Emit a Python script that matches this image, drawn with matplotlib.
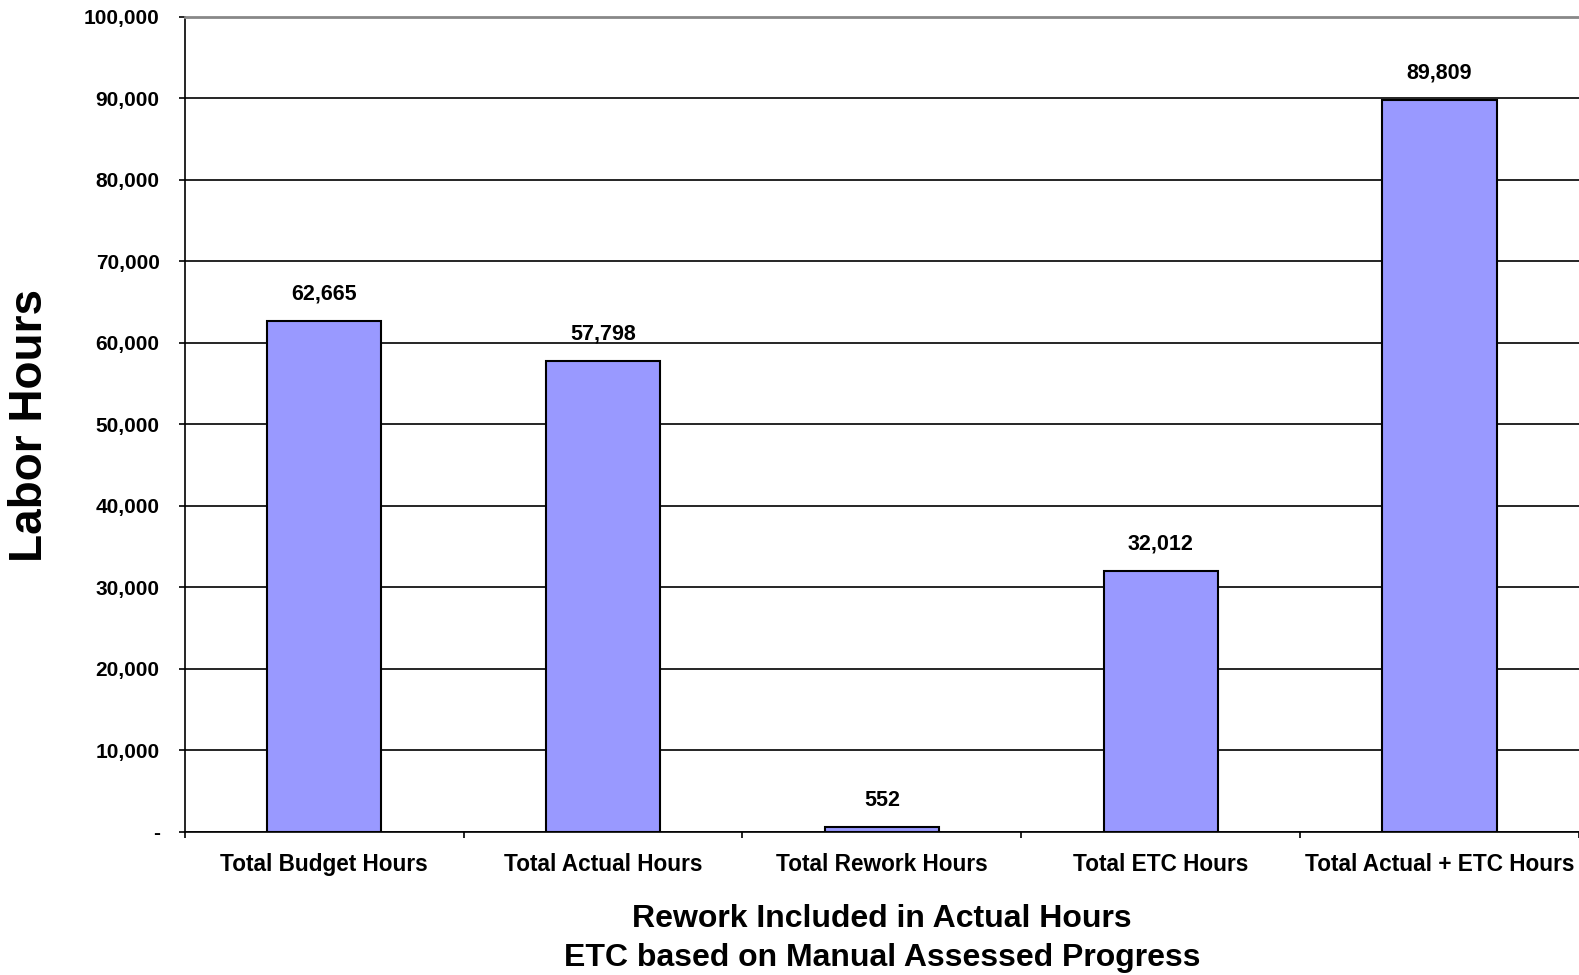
import numpy as np
import matplotlib.pyplot as plt
from matplotlib.ticker import FuncFormatter

plt.rcParams['font.family'] = ['Liberation Sans', 'DejaVu Sans']
plt.rcParams['font.weight'] = 'bold'

categories = ["Total Budget Hours", "Total Actual Hours", "Total Rework Hours",
              "Total ETC Hours", "Total Actual + ETC Hours"]
hours = [62665, 57798, 552, 32012, 89809]
yticks = np.arange(0, 100001, 10000)

fig = plt.figure(figsize=(15.79, 9.75), dpi=100)
ax = fig.add_axes([0.117, 0.1467, 0.883, 0.836])

x = np.arange(len(categories))
ax.bar(x, hours, width=0.41, color="#9999FF", edgecolor="black", linewidth=1.5, zorder=3)

for xi, h in zip(x, hours):
    ax.annotate(f"{h:,}", (xi, h), xytext=(0, 12), textcoords="offset points",
                ha="center", va="bottom", fontsize=15.5, fontweight="bold")

ax.set_xlim(-0.5, len(categories) - 0.5)
ax.set_ylim(0, 100000)
ax.set_yticks(yticks)
ax.yaxis.set_major_formatter(FuncFormatter(lambda v, p: "-" if v == 0 else f"{int(v):,}"))
ax.yaxis.grid(True, color="black", linewidth=1.2, zorder=0)
ax.tick_params(axis="y", direction="out", length=4, width=1.2, labelsize=15, pad=14)

# x ticks at category boundaries, labels centred under bars
ax.set_xticks(np.arange(-0.5, len(categories), 1.0))
ax.set_xticklabels([])
ax.set_xticks(x, minor=True)
ax.set_xticklabels(categories, minor=True, fontsize=16.3, fontweight="bold")
ax.tick_params(axis="x", which="major", direction="out", length=4, width=1.2)
ax.tick_params(axis="x", which="minor", length=0, pad=15)

for s in ["top", "right"]:
    ax.spines[s].set_visible(False)
ax.spines["left"].set_linewidth(1.2)
ax.spines["bottom"].set_linewidth(1.2)
ax.axhline(100000, color="#888888", linewidth=2, zorder=4, clip_on=False)

fig.text(30 / 1579, 1 - 426 / 975, "Labor Hours", rotation=90, ha="center", va="center",
         fontsize=33, fontweight="bold")
ax.set_xlabel("Rework Included in Actual Hours\nETC based on Manual Assessed Progress",
              fontsize=23, fontweight="bold", labelpad=20, linespacing=1.4)

plt.savefig("out.png")
